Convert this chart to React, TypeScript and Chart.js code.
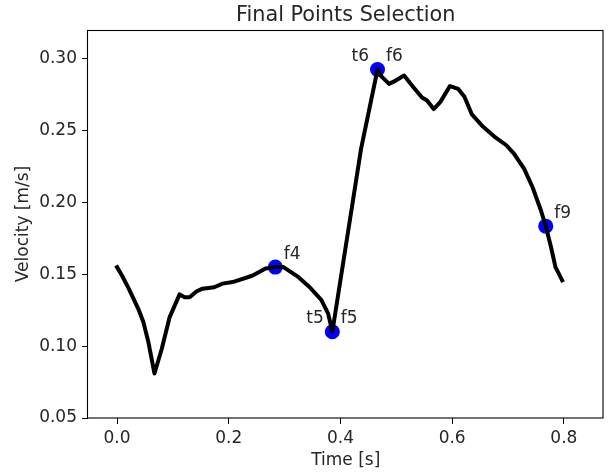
import React, { useEffect, useRef } from "react";
import { Chart, registerables } from "chart.js";

Chart.register(...registerables);

// ---- data ----
const times = [
  0, 0.009, 0.021, 0.038, 0.047, 0.056, 0.067, 0.08, 0.094, 0.103, 0.112, 0.121,
  0.13, 0.142, 0.153, 0.174, 0.189, 0.207, 0.242, 0.266, 0.2834, 0.298, 0.325,
  0.345, 0.366, 0.378, 0.3855, 0.4168, 0.4369, 0.4664, 0.472, 0.487, 0.499, 0.514,
  0.531, 0.546, 0.555, 0.567, 0.579, 0.596, 0.611, 0.622, 0.635, 0.655, 0.675,
  0.697, 0.711, 0.729, 0.744, 0.759, 0.7676, 0.777, 0.785, 0.797,
];
const velocity = [
  0.155, 0.149, 0.14, 0.126, 0.117, 0.103, 0.081, 0.098, 0.12, 0.128, 0.136, 0.134,
  0.134, 0.138, 0.14, 0.141, 0.1435, 0.1446, 0.149, 0.154, 0.155, 0.155, 0.148,
  0.141, 0.132, 0.1226, 0.11, 0.1874, 0.2373, 0.2925, 0.2883, 0.2825, 0.2848, 0.2883,
  0.28, 0.273, 0.271, 0.265, 0.27, 0.281, 0.279, 0.2735, 0.2615, 0.2528, 0.246,
  0.2398, 0.2338, 0.2234, 0.2106, 0.1944, 0.1835, 0.169, 0.155, 0.1458,
];
const markerTimes = [0.2834, 0.3855, 0.4664, 0.7676];
const markerVelocity = [0.155, 0.11, 0.2925, 0.1835];
const rightLabels = ["f4", "f5", "f6", "f9"];
const leftLabels = ["", "t5", "t6", ""];
const xTicks = [0, 0.2, 0.4, 0.6, 0.8];
const yTicks = [0.05, 0.1, 0.15, 0.2, 0.25, 0.3];
const titleText = "Final Points Selection";
const xLabel = "Time [s]";
const yLabel = "Velocity [m/s]";

const FONT = '"DejaVu Sans", sans-serif';
const TEXT = "#262626";
const FS = 17;

const overlay = {
  id: "overlay",
  afterDatasetsDraw(chart: any) {
    const { ctx, chartArea, scales } = chart;
    const { left, right, top, bottom } = chartArea;
    const x = scales.x;
    const y = scales.y;
    ctx.save();
    // spines
    ctx.strokeStyle = "#000";
    ctx.lineWidth = 1.1;
    ctx.strokeRect(left - 0.5, top + 0.5, right - left, bottom - top - 0.5);
    // annotations
    ctx.fillStyle = TEXT;
    ctx.font = `${FS}px ${FONT}`;
    ctx.textBaseline = "alphabetic";
    markerTimes.forEach((t, i) => {
      const px = x.getPixelForValue(t);
      const py = y.getPixelForValue(markerVelocity[i]);
      if (rightLabels[i]) {
        ctx.textAlign = "left";
        ctx.fillText(rightLabels[i], px + 8.5, py - 8.5);
      }
      if (leftLabels[i]) {
        ctx.textAlign = "right";
        ctx.fillText(leftLabels[i], px - 8.5, py - 8.5);
      }
    });
    // title
    ctx.font = `20.8px ${FONT}`;
    ctx.textAlign = "center";
    ctx.fillText(titleText, (left + right) / 2, 21);
    ctx.restore();
  },
};

export default function App() {
  const ref = useRef<HTMLCanvasElement>(null);
  useEffect(() => {
    if (!ref.current) return;
    const chart = new Chart(ref.current, {
      type: "line",
      data: {
        datasets: [
          {
            label: "velocity",
            data: times.map((t, i) => ({ x: t, y: velocity[i] })),
            borderColor: "#000",
            borderWidth: 4,
            pointRadius: 0,
            tension: 0,
            borderCapStyle: "square",
            borderJoinStyle: "round",
            order: 0,
          },
          {
            label: "points",
            data: markerTimes.map((t, i) => ({ x: t, y: markerVelocity[i] })),
            showLine: false,
            pointRadius: 7.5,
            pointBackgroundColor: "#0000ff",
            pointBorderWidth: 0,
            borderColor: "#0000ff",
            order: 1,
          },
        ],
      },
      options: {
        animation: false,
        responsive: false,
        devicePixelRatio: 1,
        layout: { padding: { left: 0, right: 3, top: 30, bottom: 0 } },
        plugins: {
          legend: { display: false },
          title: { display: false },
          tooltip: { enabled: false },
        },
        scales: {
          x: {
            type: "linear",
            min: -0.052,
            max: 0.871,
            afterBuildTicks: (s: any) => {
              s.ticks = xTicks.map((v) => ({ value: v }));
            },
            afterFit: (s: any) => {
              s.height = 54;
            },
            grid: {
              drawOnChartArea: false,
              drawTicks: true,
              tickLength: 6,
              color: "#000",
              lineWidth: 1,
            },
            border: { display: false },
            ticks: {
              autoSkip: false,
              maxRotation: 0,
              padding: 4,
              color: TEXT,
              font: { family: FONT, size: FS },
              callback: (v: any) => Number(v).toFixed(1),
            },
            title: {
              display: true,
              text: xLabel,
              color: TEXT,
              font: { family: FONT, size: FS },
              padding: { top: 0, bottom: 1 },
            },
          },
          y: {
            type: "linear",
            min: 0.05,
            max: 0.32,
            afterBuildTicks: (s: any) => {
              s.ticks = yTicks.map((v) => ({ value: v }));
            },
            afterFit: (s: any) => {
              s.width = 88;
            },
            grid: {
              drawOnChartArea: false,
              drawTicks: true,
              tickLength: 6,
              color: "#000",
              lineWidth: 1,
            },
            border: { display: false },
            ticks: {
              autoSkip: false,
              padding: 5,
              color: TEXT,
              font: { family: FONT, size: FS },
              callback: (v: any) => Number(v).toFixed(2),
            },
            title: {
              display: true,
              text: yLabel,
              color: TEXT,
              font: { family: FONT, size: FS },
              padding: { top: 13.5, bottom: 0 },
            },
          },
        },
      },
      plugins: [overlay],
    } as any);
    return () => chart.destroy();
  }, []);
  return (
    <div style={{ position: "absolute", left: 0, top: 0, width: 611, height: 472, background: "#fff" }}>
      <canvas ref={ref} width={611} height={472} style={{ width: 611, height: 472, display: "block" }} />
    </div>
  );
}
